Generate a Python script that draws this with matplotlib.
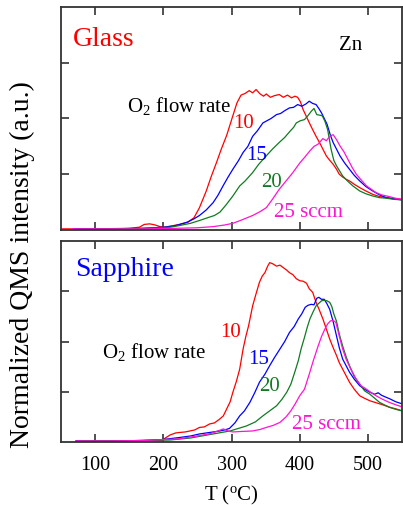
import matplotlib
matplotlib.use("Agg")
import matplotlib.pyplot as plt

plt.rcParams['font.family'] = ['Liberation Serif', 'DejaVu Serif']
plt.rcParams['mathtext.fontset'] = 'custom'
plt.rcParams['mathtext.rm'] = 'Liberation Serif'
plt.rcParams['mathtext.it'] = 'Liberation Serif:italic'

# Zn desorption traces on glass, one per O2 flow rate (sccm)
g10_T = [50, 100, 150, 165, 172, 180, 188, 195, 202, 215, 224, 236, 245, 253, 263,
         270, 278, 285, 293, 302, 308, 314, 320, 326, 331, 336, 342, 347, 351, 357,
         363, 370, 376, 382, 388, 393, 397, 401, 405, 410, 415, 419, 424, 429, 434,
         439, 444, 449, 454, 458, 463, 468, 473, 480, 488, 497, 507, 517, 527, 538, 550]
g10_I = [0.02, 0.02, 0.03, 0.05, 0.10, 0.11, 0.09, 0.06, 0.05, 0.08, 0.10, 0.14, 0.22, 0.40, 0.70,
         0.95, 1.21, 1.45, 1.70, 2.05, 2.28, 2.42, 2.45, 2.50, 2.46, 2.52, 2.44, 2.40, 2.44, 2.38,
         2.41, 2.43, 2.38, 2.42, 2.37, 2.40, 2.38, 2.30, 2.16, 2.03, 1.90, 1.80, 1.68, 1.57, 1.45,
         1.33, 1.25, 1.18, 1.09, 1.00, 0.95, 0.91, 0.88, 0.82, 0.76, 0.70, 0.64, 0.60, 0.58, 0.56, 0.55]

g15_T = [70, 120, 170, 200, 215, 224, 235, 245, 253, 263, 273, 280, 288, 295, 302,
         310, 317, 324, 331, 338, 346, 352, 358, 366, 372, 378, 385, 391, 397, 403,
         409, 414, 419, 424, 428, 432, 436, 440, 445, 449, 454, 459, 466, 473, 480,
         488, 497, 507, 517, 527, 538, 550]
g15_I = [0.02, 0.02, 0.03, 0.05, 0.07, 0.10, 0.14, 0.20, 0.26, 0.36, 0.49, 0.62, 0.80, 0.95, 1.09,
         1.24, 1.39, 1.50, 1.68, 1.78, 1.92, 1.96, 2.00, 2.07, 2.09, 2.14, 2.19, 2.20, 2.25, 2.22,
         2.26, 2.31, 2.27, 2.25, 2.18, 2.10, 2.00, 1.90, 1.70, 1.57, 1.45, 1.33, 1.20, 1.09, 0.98,
         0.88, 0.78, 0.70, 0.63, 0.58, 0.56, 0.54]

g20_T = [70, 120, 170, 210, 224, 240, 253, 265, 275, 283, 292, 302, 312, 320, 331,
         340, 351, 360, 370, 378, 385, 391, 395, 401, 407, 412, 417, 421, 425, 429,
         433, 437, 441, 446, 450, 454, 459, 463, 470, 478, 488, 497, 507, 517, 527, 538, 550]
g20_I = [0.01, 0.02, 0.03, 0.05, 0.08, 0.12, 0.17, 0.22, 0.26, 0.32, 0.45, 0.61, 0.79, 0.88, 1.03,
         1.18, 1.33, 1.45, 1.57, 1.66, 1.76, 1.84, 1.92, 1.96, 1.98, 2.05, 2.13, 2.18, 2.07, 2.06,
         2.05, 1.95, 1.80, 1.45, 1.25, 1.15, 1.05, 0.97, 0.88, 0.79, 0.70, 0.65, 0.61, 0.58, 0.57, 0.55, 0.54]

g25_T = [67, 120, 170, 220, 250, 273, 290, 302, 315, 331, 342, 351, 360, 370, 380,
         390, 400, 407, 415, 421, 427, 434, 439, 444, 449, 454, 459, 465, 471, 477,
         483, 490, 498, 505, 512, 520, 531, 540, 550]
g25_I = [0.02, 0.02, 0.02, 0.03, 0.04, 0.06, 0.09, 0.12, 0.18, 0.26, 0.33, 0.40, 0.55, 0.73, 0.88,
         1.03, 1.20, 1.30, 1.42, 1.50, 1.54, 1.64, 1.60, 1.68, 1.71, 1.62, 1.51, 1.40, 1.26, 1.12,
         1.00, 0.90, 0.79, 0.73, 0.67, 0.63, 0.60, 0.57, 0.55]

# same on sapphire
s10_T = [72, 120, 170, 198, 203, 210, 218, 224, 232, 239, 246, 253, 260, 268, 275,
         283, 288, 293, 298, 302, 307, 312, 317, 321, 325, 331, 336, 341, 345, 349,
         353, 356, 360, 366, 371, 376, 381, 385, 390, 395, 400, 405, 410, 414, 419,
         424, 429, 434, 439, 444, 449, 454, 458, 463, 468, 473, 480, 488, 495, 503,
         510, 517, 524, 532, 541, 550]
s10_I = [0.02, 0.02, 0.03, 0.03, 0.08, 0.14, 0.18, 0.19, 0.20, 0.22, 0.24, 0.29, 0.30, 0.36, 0.38,
         0.46, 0.52, 0.66, 0.80, 0.99, 1.20, 1.45, 1.85, 2.10, 2.31, 2.71, 2.95, 3.18, 3.30, 3.37,
         3.50, 3.57, 3.55, 3.50, 3.52, 3.47, 3.42, 3.37, 3.33, 3.25, 3.21, 3.20, 3.16, 3.05, 2.98,
         2.78, 2.62, 2.45, 2.25, 2.05, 1.88, 1.72, 1.58, 1.45, 1.32, 1.19, 1.05, 0.92, 0.87, 0.82,
         0.79, 0.76, 0.73, 0.69, 0.66, 0.62]

s15_T = [72, 120, 170, 200, 224, 240, 253, 268, 283, 290, 297, 305, 312, 319, 327,
         334, 341, 349, 356, 363, 371, 378, 385, 392, 398, 403, 408, 412, 417, 421,
         425, 428, 432, 436, 440, 444, 449, 454, 458, 463, 468, 473, 480, 488, 495,
         503, 510, 515, 520, 525, 532, 541, 550]
s15_I = [0.02, 0.02, 0.03, 0.05, 0.09, 0.12, 0.16, 0.19, 0.22, 0.24, 0.27, 0.38, 0.52, 0.62, 0.79,
         0.98, 1.19, 1.35, 1.52, 1.68, 1.85, 2.00, 2.18, 2.30, 2.45, 2.55, 2.68, 2.72, 2.74, 2.73,
         2.86, 2.88, 2.84, 2.84, 2.75, 2.64, 2.40, 2.11, 1.88, 1.65, 1.52, 1.39, 1.25, 1.12, 1.05,
         0.99, 0.95, 0.98, 0.93, 0.90, 0.86, 0.80, 0.76]

s20_T = [78, 120, 170, 210, 240, 273, 298, 322, 335, 346, 356, 366, 374, 381, 387,
         393, 398, 402, 407, 411, 415, 420, 424, 428, 432, 436, 440, 444, 447, 450,
         454, 458, 463, 468, 473, 480, 488, 495, 503, 510, 517, 524, 532, 541, 550]
s20_I = [0.02, 0.02, 0.03, 0.04, 0.08, 0.16, 0.22, 0.32, 0.40, 0.52, 0.62, 0.72, 0.85, 0.99, 1.15,
         1.40, 1.62, 1.85, 2.08, 2.28, 2.45, 2.60, 2.71, 2.76, 2.81, 2.82, 2.81, 2.78, 2.70, 2.55,
         2.40, 2.15, 1.91, 1.70, 1.52, 1.30, 1.15, 1.02, 0.95, 0.87, 0.79, 0.74, 0.69, 0.65, 0.62]

s25_T = [72, 120, 170, 220, 250, 270, 280, 288, 295, 302, 315, 331, 342, 351, 361,
         371, 380, 387, 393, 400, 407, 414, 420, 427, 432, 437, 441, 445, 449, 453,
         458, 463, 468, 475, 483, 490, 498, 505, 512, 520, 531, 541, 550]
s25_I = [0.02, 0.02, 0.03, 0.06, 0.12, 0.17, 0.22, 0.26, 0.22, 0.20, 0.21, 0.22, 0.25, 0.29, 0.33,
         0.39, 0.50, 0.62, 0.75, 0.92, 1.05, 1.35, 1.62, 1.91, 2.10, 2.25, 2.35, 2.41, 2.42, 2.38,
         2.11, 1.85, 1.65, 1.45, 1.25, 1.12, 1.05, 0.98, 0.92, 0.86, 0.79, 0.74, 0.70]

flow_labels = ['10', '15', '20', '25 sccm']
colors = ['#ff0000', '#0000ff', '#117a22', '#ff14d2']

glass = [(g10_T, g10_I), (g15_T, g15_I), (g20_T, g20_I), (g25_T, g25_I)]
sapphire = [(s10_T, s10_I), (s15_T, s15_I), (s20_T, s20_I), (s25_T, s25_I)]

# label spots (T, intensity) for each flow-rate tag
glass_tags = [(302, 1.85), (321, 1.27), (343, 0.79), (363, 0.25)]
sapphire_tags = [(283, 2.11), (324, 1.58), (341, 1.03), (388, 0.27)]

fig = plt.figure(figsize=(4.03, 5.06), dpi=100)
ax1 = fig.add_axes([0.1514, 0.5435, 0.8461, 0.4407])
ax2 = fig.add_axes([0.1514, 0.1245, 0.8461, 0.3972])

for ax, traces, tags in [(ax1, glass, glass_tags), (ax2, sapphire, sapphire_tags)]:
    for (T, I), c in zip(traces, colors):
        ax.plot(T, I, color=c, lw=0.9)
    for (tx, ty), lab, c in zip(tags, flow_labels, colors):
        ax.text(tx, ty, lab, color=c, fontsize=15, ha='left', va='baseline')
    ax.set_xlim(50, 550)
    ax.set_ylim(0, 4)
    ax.set_xticks([100, 200, 300, 400, 500])
    ax.set_yticks([1, 2, 3])
    ax.set_yticklabels([])
    ax.tick_params(direction='in', top=True, right=True, length=6, width=1.1,
                   color='#222222', labelsize=14.5, pad=9)
    for sp in ax.spines.values():
        sp.set_linewidth(1.3)
        sp.set_color('#333333')

ax1.set_xticklabels([])
ax1.text(68, 3.31, 'Glass', color='#ff0000', fontsize=20, va='baseline')
ax1.text(457, 3.25, 'Zn', color='black', fontsize=15, va='baseline')
ax1.text(147, 2.14, r'O$_2$ flow rate', color='black', fontsize=15, va='baseline')

ax2.text(70, 3.33, 'Sapphire', color='#0000ff', fontsize=20, va='baseline')
ax2.text(110, 1.70, r'O$_2$ flow rate', color='black', fontsize=15, va='baseline')

ax2.set_xlabel(r'T ($^{\rm o}$C)', fontsize=15, labelpad=7)
fig.text(0.055, 0.478, 'Normalized QMS intensity (a.u.)', rotation=90,
         fontsize=20, ha='center', va='center')

fig.savefig('out.png', dpi=100)
